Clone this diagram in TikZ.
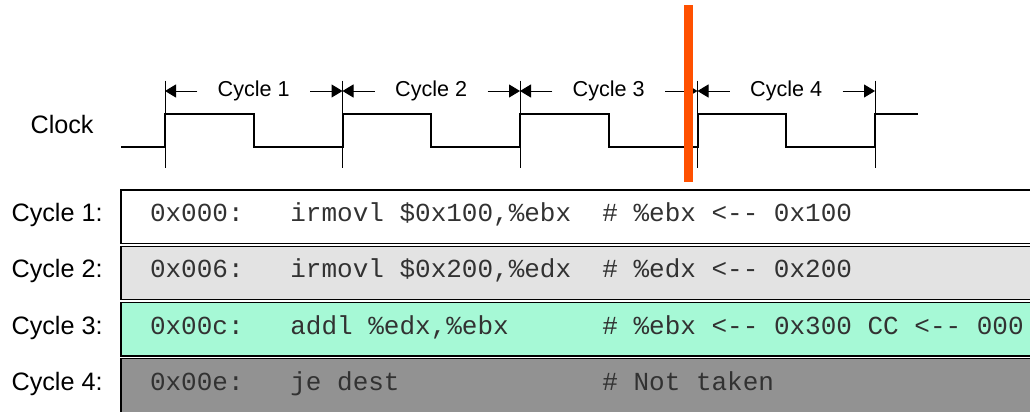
\documentclass[tikz,border=0pt]{standalone}
\usepackage{fontspec}
\setmainfont{Liberation Sans}
\setmonofont{Liberation Mono}
\usepackage{xcolor}
\usepackage{tikz}
\usetikzlibrary{positioning,arrows.meta}

\definecolor{cutorange}{RGB}{255,80,0}
\definecolor{rowgray}{RGB}{227,227,227}
\definecolor{rowmint}{RGB}{166,249,214}
\definecolor{rowdark}{RGB}{146,146,146}
\definecolor{codetext}{RGB}{50,50,50}
\newcommand{\codefont}{\fontsize{13}{15}\selectfont\ttfamily}

\begin{document}
\begin{tikzpicture}[x=0.5pt, y=-0.5pt,
		coderow/.style={draw, line width=0.6pt, anchor=north west, outer sep=0pt, inner ysep=0pt, inner xsep=14.5pt,
			text width=460pt, align=left, text height=15.85pt, text depth=10.9pt,
			font=\codefont, text=codetext, execute at begin node={\spaceskip=7.8pt\relax}},
		rowlabel/.style={inner sep=0pt, font=\fontsize{12.6}{15}\selectfont},
		cyclabel/.style={inner xsep=10pt, inner ysep=0pt, font=\fontsize{10.8}{13}\selectfont},
		clockwave/.style={line width=1pt},
		edgetick/.style={line width=0.5pt},
		spanarrow/.style={line width=0.5pt, -{Triangle[length=5.5pt,width=6.5pt]}}]
			\useasboundingbox (0,0) rectangle (1030,412);
			%\draw[help lines] (0,0) grid[step=50] (1030,412);
			\node[rowlabel, anchor=east] (clock) at (94,124) {Clock};
			\draw[clockwave] (121,147) \foreach \i in {0,...,3} { -- ({165+177.5*\i},147) -- ({165+177.5*\i},114) -- ({253.75+177.5*\i},114) -- ({253.75+177.5*\i},147) } -- (875,147) -- (875,114) -- (918,114);
			\foreach \i in {0,...,4} {
				\coordinate (top\i) at ({165+177.5*\i},80.5);
				\coordinate (bot\i) at ({165+177.5*\i},167.5);
				\draw[edgetick] (top\i) -- (bot\i);
			}
			\foreach \i [evaluate=\i as \x using {253.75+177.5*(\i-1)}, count=\j from 0] in {1,...,4} {
				\node[cyclabel] (c\i) at (\x,91) {Cycle \i};
				\draw[spanarrow] (c\i.west) -- (top\j |- c\i.west);
				\draw[spanarrow] (c\i.east) -- (top\i |- c\i.east);
			}

			\node[coderow] (r1) at (121,190) {0x000:\ \ \ irmovl \$0x100,\%ebx\ \ \# \%ebx <-{}- 0x100};
			\node[coderow, fill=rowgray, below=1.35pt of r1] (r2) {0x006:\ \ \ irmovl \$0x200,\%edx\ \ \# \%edx <-{}- 0x200};
			\node[coderow, fill=rowmint, below=1.35pt of r2] (r3) {0x00c:\ \ \ addl \%edx,\%ebx\ \ \ \ \ \ \# \%ebx <-{}- 0x300 CC <-{}- 000};
			\node[coderow, fill=rowdark, below=1.35pt of r3, text depth=20pt] (r4) {0x00e:\ \ \ je dest\ \ \ \ \ \ \ \ \ \ \ \ \ \# Not taken};
			\foreach \i in {1,...,4}
				\node[rowlabel, anchor=base east] (l\i) at ([xshift=-9pt]r\i.base west) {Cycle \i:};

			\fill[cutorange] (683.5,5) rectangle (692.5,181.5);
		\end{tikzpicture}
\end{document}
